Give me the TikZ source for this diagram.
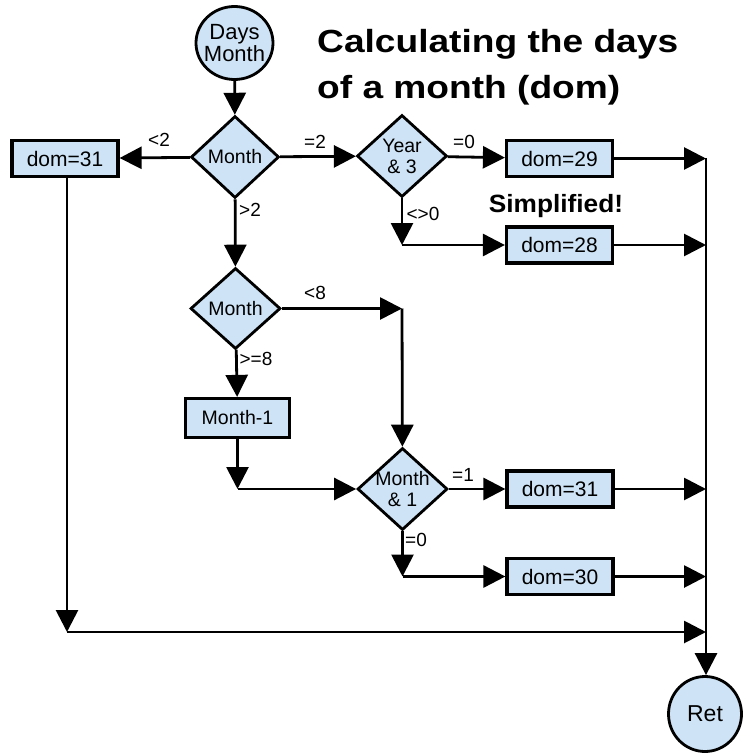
\documentclass[tikz,border=0pt]{standalone}
\usepackage{fontspec}
\setmainfont{Liberation Sans}
\usepackage{graphicx}
\usetikzlibrary{shapes.geometric,arrows.meta,calc}
\definecolor{boxfill}{RGB}{206,228,246}
\begin{document}
\begin{tikzpicture}[x=1pt,y=-1pt,
 conn/.style={line width=2.8pt, -{Triangle[length=22pt,width=22pt]}},
 procbox/.style={draw=black, line width=3.2pt, fill=boxfill, rectangle, minimum width=106pt, minimum height=36pt, inner sep=0pt, font=\fontsize{21}{22}\selectfont},
 decide/.style={draw=black, line width=2.8pt, fill=boxfill, diamond, minimum width=88pt, minimum height=80pt, inner sep=-12pt, align=center, font=\fontsize{19.5}{21}\selectfont},
 term/.style={draw=black, line width=2.8pt, fill=boxfill, ellipse, inner sep=-14pt, align=center, font=\fontsize{22}{22.5}\selectfont},
 lbl/.style={font=\fontsize{19}{20}\selectfont, inner sep=0pt}
]
\useasboundingbox (0,0) rectangle (746,754);

% title and note
\node[anchor=north west, align=left, inner sep=0pt, font=\fontsize{32}{46}\selectfont\bfseries] (title) at (317,29)
  {\scalebox{1.16}[1]{Calculating the days}\\\scalebox{1.16}[1]{of a month (dom)}};
\node[anchor=base, inner sep=0pt, font=\fontsize{25}{26}\selectfont\bfseries] (simp) at (556,212) {\scalebox{1.05}[1]{Simplified!}};

% nodes
\node[term, minimum width=77pt, minimum height=73pt] (start) at (234.5,43) {Days\\Month};
\node[decide, minimum width=88pt, minimum height=82pt] (d1) at (235,157) {Month};
\node[procbox] (domA) at (65,158.5) {dom=31};
\node[decide, minimum width=90pt, minimum height=82pt] (d2) at (402,156) {Year\\\& 3};
\node[procbox] (dom29) at (559.5,158.5) {dom=29};
\node[procbox] (dom28) at (559.5,245) {dom=28};
\node[decide, minimum width=90pt, minimum height=81pt] (d3) at (235.5,308.5) {Month};
\node[procbox, minimum width=104pt, minimum height=39pt, font=\fontsize{19.5}{20}\selectfont] (m1) at (237.5,418) {Month-1};
\node[decide, minimum width=90pt, minimum height=82pt] (d4) at (402.5,489) {Month\\\& 1};
\node[procbox] (dom31) at (560,489) {dom=31};
\node[procbox] (dom30) at (560,576.5) {dom=30};
\node[term, minimum width=73pt, minimum height=75pt, font=\fontsize{23}{24}\selectfont] (ret) at (705,714) {Ret};

% corner coordinates
\coordinate (k1) at (402,245);
\coordinate (k2) at (402,308.5);
\coordinate (k3) at (237.5,489);
\coordinate (k4) at (402.5,576.5);
\coordinate (c1) at (67,632);
\coordinate (r1) at (706,158.5);
\coordinate (r2) at (706,245);
\coordinate (r3) at (706,489);
\coordinate (r4) at (706,576.5);
\coordinate (r5) at (706,632);

% connectors
\draw[conn] (start) -- (d1);
\draw[conn] (d1) -- (domA);
\draw[conn] (d1) -- (d2);
\draw[conn] (d2) -- (dom29);
\draw[conn] (dom29) -- (r1);
\draw[conn] (d2) -- (k1);
\draw[conn] (k1) -- (dom28);
\draw[conn] (dom28) -- (r2);
\draw[conn] (d1) -- (d3);
\draw[conn] (d3) -- (k2);
\draw[conn] (k2) -- (d4);
\draw[conn] (d3) -- (m1);
\draw[conn] (m1) -- (k3);
\draw[conn] (k3) -- (d4);
\draw[conn] (d4) -- (dom31);
\draw[conn] (dom31) -- (r3);
\draw[conn] (d4) -- (k4);
\draw[conn] (k4) -- (dom30);
\draw[conn] (dom30) -- (r4);
\draw[conn] (domA.south -| c1) -- (c1);
\draw[conn] (c1) -- (r5);
\draw[conn] (r1) -- (r1 |- ret.north);

% labels
\node[lbl] (l1) at (159,140) {<2};
\node[lbl] (l2) at (315,142) {=2};
\node[lbl] (l3) at (464,142) {=0};
\node[lbl] (l4) at (423,214) {<>0};
\node[lbl] (l5) at (250,210) {>2};
\node[lbl] (l6) at (315,293) {<8};
\node[lbl] (l7) at (256,359) {>=8};
\node[lbl] (l8) at (463,475) {=1};
\node[lbl] (l9) at (416,540) {=0};
\end{tikzpicture}
\end{document}
